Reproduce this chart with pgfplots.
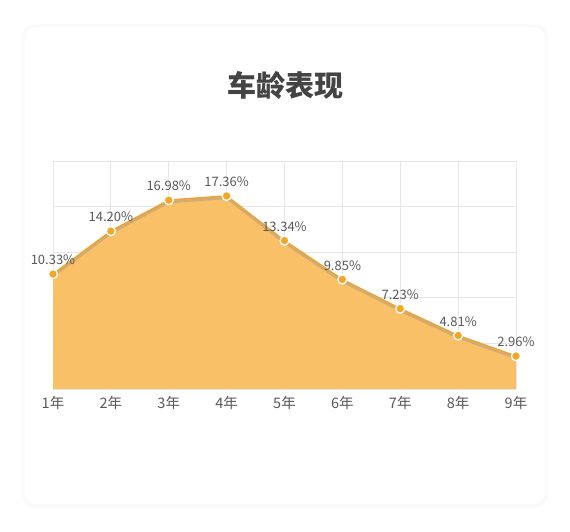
\documentclass[border=0pt]{standalone}
\usepackage{fontspec}
\setmainfont{Noto Sans CJK SC}
\usepackage{pgfplots}
\pgfplotsset{compat=1.18}

\definecolor{areafill}{HTML}{F9BD5F}
\definecolor{linecol}{HTML}{EBA33C}
\definecolor{markcol}{HTML}{F5A623}
\definecolor{txtgray}{HTML}{595959}
\definecolor{titlegray}{HTML}{444444}
\definecolor{gridgray}{HTML}{E6E6E6}

\begin{document}
\begin{tikzpicture}[x=1pt,y=1pt]
\useasboundingbox (0,0) rectangle (570,532);
\fill[white] (0,0) rectangle (570,532);
% card with soft shadow
\fill[black!4, rounded corners=13pt] (23,25) rectangle (547,507);
\fill[black!2, rounded corners=13pt] (22,24) rectangle (548,508);
\fill[white, rounded corners=12pt] (25,28) rectangle (545,505);

\node[font=\fontsize{29}{32}\selectfont\bfseries, text=titlegray] at (285,446) {车龄表现};

\begin{axis}[
    at={(53pt,143pt)}, anchor=south west,
    width=463pt, height=228pt, scale only axis,
    xmin=1, xmax=9, ymin=0, ymax=20.5,
    enlargelimits=false,
    xtick={1,...,9},
    xticklabels={1年,2年,3年,4年,5年,6年,7年,8年,9年},
    ytick={0,4.1,8.2,12.3,16.4,20.5},
    yticklabels={},
    grid=major,
    major grid style={gridgray, line width=0.8pt},
    axis line style={draw=none},
    tick style={draw=none},
    xticklabel style={font=\fontsize{14.5}{16}\selectfont, text=txtgray, yshift=-4pt},
    /pgf/number format/assume math mode=true,
    clip=false,
]
% area
\addplot[fill=areafill, fill opacity=0.95, draw=none] coordinates {
    (1,10.33) (2,14.20) (3,16.98) (4,17.36) (5,13.34)
    (6,9.85) (7,7.23) (8,4.81) (9,2.96)
} \closedcycle;
% line shadow
\addplot[black!45, opacity=0.35, line width=2.5pt, yshift=-2pt] coordinates {
    (1,10.33) (2,14.20) (3,16.98) (4,17.36) (5,13.34)
    (6,9.85) (7,7.23) (8,4.81) (9,2.96)
};
% line with markers and labels
\addplot[linecol, line width=1.6pt,
    mark=*, mark size=4.5pt,
    mark options={fill=markcol, draw=white, line width=1.3pt},
    point meta=y,
    nodes near coords={\pgfmathprintnumber[fixed, fixed zerofill, precision=2, assume math mode=true]{\pgfplotspointmeta}\%},
    every node near coord/.append style={font=\fontsize{13}{15}\selectfont, text=txtgray, anchor=south, yshift=5pt},
] coordinates {
    (1,10.33) (2,14.20) (3,16.98) (4,17.36) (5,13.34)
    (6,9.85) (7,7.23) (8,4.81) (9,2.96)
};
\end{axis}
\end{tikzpicture}
\end{document}
